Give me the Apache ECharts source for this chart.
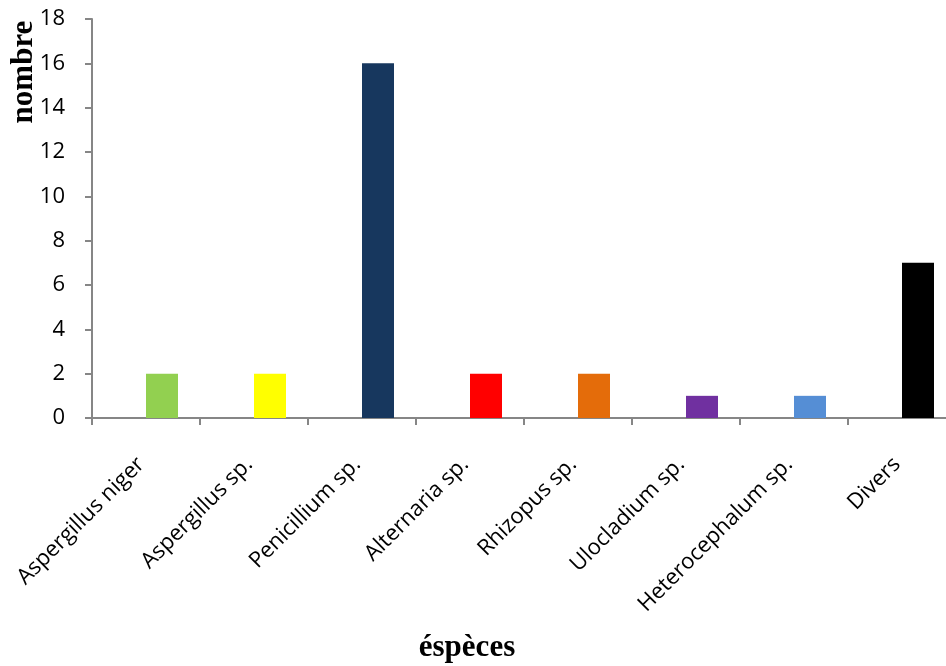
<!DOCTYPE html>
<html>
<head>
<meta charset="utf-8">
<script src="https://cdn.jsdelivr.net/npm/echarts@6/dist/echarts.min.js"></script>
<style>
  html, body { margin: 0; padding: 0; background: #fff; overflow: hidden; }
  /* the canvas is a little wider than the window, so the plot runs off the right edge */
  #chart { width: 956px; height: 666px; }
</style>
</head>
<body>
<div id="chart"></div>
<script>
// Species counts
const categories = ['Aspergillus niger', 'Aspergillus sp.', 'Penicillium sp.', 'Alternaria sp.',
  'Rhizopus sp.', 'Ulocladium sp.', 'Heterocephalum sp.', 'Divers'];
const counts = [2, 2, 16, 2, 2, 1, 1, 7];
const barColors = ['#92d050', '#ffff00', '#17375e', '#ff0000', '#e46c0a', '#7030a0', '#558ed5', '#000000'];
const yTicks = { min: 0, max: 18, interval: 2 };

const chart = echarts.init(document.getElementById('chart'), null, { renderer: 'canvas' });
const axisGray = '#868686';
const labelFont = 'Open Sans';

chart.setOption({
  animation: false,
  backgroundColor: '#ffffff',
  grid: { left: 92, top: 19, right: 0, bottom: 248, containLabel: false },
  xAxis: {
    type: 'category',
    data: categories,
    axisLine: { lineStyle: { color: axisGray, width: 2 } },
    axisTick: { show: true, length: 7, lineStyle: { color: axisGray, width: 2 } },
    axisLabel: { rotate: 45, margin: 38, padding: [0, 7, 0, 0], color: '#000',
      fontFamily: labelFont, fontSize: 22 }
  },
  yAxis: {
    type: 'value',
    min: yTicks.min, max: yTicks.max, interval: yTicks.interval,
    axisLine: { show: true, lineStyle: { color: axisGray, width: 2 } },
    axisTick: { show: true, length: 7, lineStyle: { color: axisGray, width: 2 } },
    splitLine: { show: false },
    axisLabel: { margin: 27, color: '#000', fontFamily: labelFont, fontSize: 22 }
  },
  series: [
    {
      // empty companion series: keeps each bar in the right half of its slot
      type: 'bar',
      data: counts.map(() => null),
      barWidth: 32,
      barGap: '0%',
      silent: true
    },
    {
      type: 'bar',
      data: counts.map((v, i) => ({ value: v, itemStyle: { color: barColors[i] } })),
      barWidth: 32,
      barGap: '0%'
    }
  ],
  graphic: [
    {
      type: 'text',
      x: 467, y: 648,
      style: { text: 'éspèces', font: 'bold 31px "Liberation Serif"', fill: '#000',
        align: 'center', verticalAlign: 'middle' }
    },
    {
      type: 'text',
      x: 24, y: 72,
      rotation: Math.PI / 2,
      style: { text: 'nombre', font: 'bold 31px "Liberation Serif"', fill: '#000',
        align: 'center', verticalAlign: 'middle' }
    }
  ]
});
</script>
</body>
</html>
